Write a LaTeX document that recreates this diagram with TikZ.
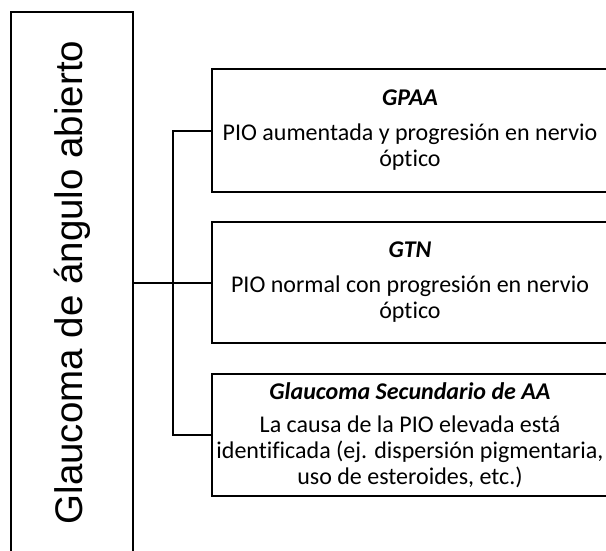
\documentclass[tikz,border=0pt]{standalone}
\usepackage{fontspec}
\setmainfont[Ligatures=NoCommon]{Carlito}
\newfontfamily\rootfont{Liberation Sans}
\usetikzlibrary{positioning}

\begin{document}
\begin{tikzpicture}[x=1pt, y=-1pt, line width=2pt,
    rootbox/.style={draw, minimum width=122pt, minimum height=541pt, inner sep=0pt},
    typebox/.style={draw, minimum width=396pt, align=center, inner sep=2pt,
        font=\fontsize{24}{26}\selectfont},
    link/.style={line width=2pt}]
\useasboundingbox (0,0) rectangle (606,550);
\node[rootbox] (root) at (72,282.5) {\rotatebox{90}{\rootfont\fontsize{38.5}{40}\selectfont Glaucoma de ángulo abierto}};
\node[typebox, minimum height=123pt] (gpaa) at (410,130.5) {\textbf{\textit{GPAA}}\\[9pt] PIO aumentada y progresión en nervio\\ óptico};
\node[typebox, minimum height=121pt] (gtn) at (410,282.5) {\textbf{\textit{GTN}}\\[9pt] PIO normal con progresión en nervio\\ óptico};
\node[typebox, minimum height=122pt] (gsaa) at (410,435) {\textbf{\textit{Glaucoma Secundario de AA}}\\[7pt] La causa de la PIO elevada está\\ identificada (ej. dispersión pigmentaria,\\ uso de esteroides, etc.)};
\coordinate (forktop) at (173,130.5);
\coordinate (forkbot) at (173,435);
\draw[link] (root.east) -- (gtn.west);
\draw[link] (gpaa.west) -- (forktop) -- (forkbot) -- (gsaa.west);
\end{tikzpicture}
\end{document}
